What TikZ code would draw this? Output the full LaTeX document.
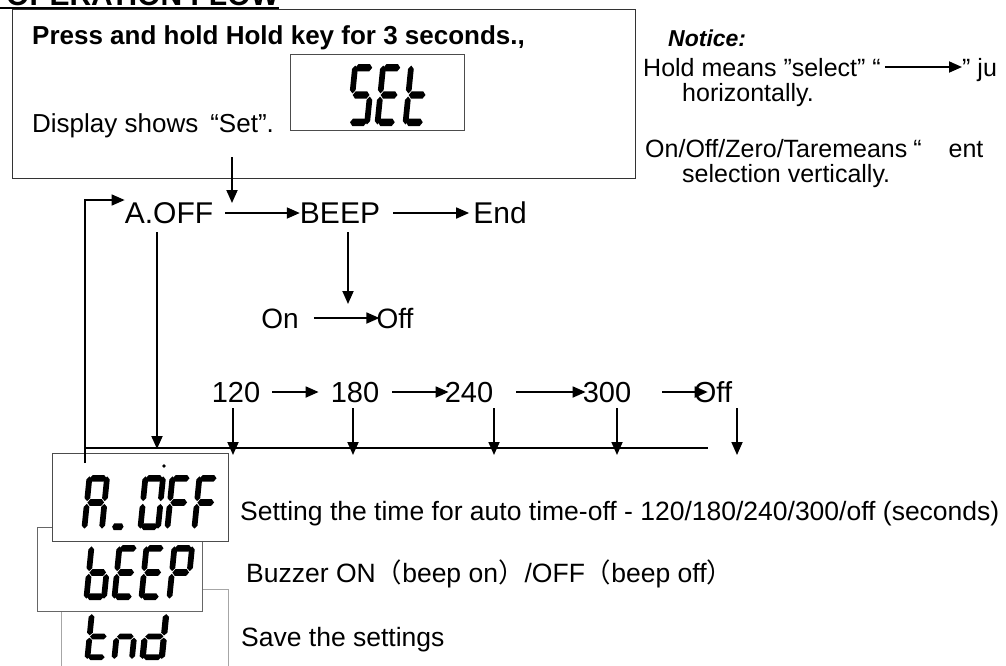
\documentclass[tikz,border=0pt]{standalone}
\usepackage{fontspec}
\setmainfont{Liberation Sans}
\newfontfamily\cjkfont{Noto Sans CJK SC}
\usetikzlibrary{arrows.meta}

\newcommand\fsz[1]{\fontsize{#1}{#1}\selectfont}

% seven-segment cell: x runs 0..1, y runs 0..2
\newcommand\lcdH[1]{\fill (0.12,#1) -- (0.24,{#1+0.12}) -- (0.76,{#1+0.12}) -- (0.88,#1) -- (0.76,{#1-0.12}) -- (0.24,{#1-0.12}) -- cycle;}
\newcommand\lcdV[3]{\fill (#1,{#2+0.05}) -- ({#1+0.13},{#2+0.16}) -- ({#1+0.13},{#3-0.16}) -- (#1,{#3-0.05}) -- ({#1-0.13},{#3-0.16}) -- ({#1-0.13},{#2+0.16}) -- cycle;}
\newcommand\lcdsega{\lcdH{1.88}}
\newcommand\lcdsegg{\lcdH{1.0}}
\newcommand\lcdsegd{\lcdH{0.12}}
\newcommand\lcdsegb{\lcdV{0.9}{1}{2}}
\newcommand\lcdsegc{\lcdV{0.9}{0}{1}}
\newcommand\lcdsegf{\lcdV{0.1}{1}{2}}
\newcommand\lcdsege{\lcdV{0.1}{0}{1}}
% #1,#2 bottom-left corner, #3 width, #4 height, #5 lit segments
\newcommand\lcdchar[5]{%
  \begin{scope}[shift={(#1,#2)},x={(#3pt,0pt)},y={({0.05*#4*1pt},{0.5*#4*1pt})}]
    \foreach \s in {#5}{\csname lcdseg\s\endcsname}
  \end{scope}}

\begin{document}
\begin{tikzpicture}[x=1pt,y=-1pt,
  txt/.style={inner sep=0pt,anchor=base west},
  row/.style={inner sep=0pt,text height=21pt,text depth=0pt,font=\fsz{30}},
  num/.style={inner sep=0pt,text height=21pt,text depth=0pt,font=\fsz{29}},
  arr/.style={line width=1.8pt,-{Triangle[length=13pt,width=11pt]}},
  lcdbox/.style={draw=black!70,line width=1.1pt,fill=white,anchor=north west,inner sep=0pt},
  frame/.style={draw=black!80,line width=1.3pt,anchor=north west,inner sep=0pt}]
\path[use as bounding box,clip] (0,0) rectangle (1006,665);
\fill[white] (0,0) rectangle (1006,665);

% heading
\node[txt,font=\bfseries\fsz{30}] (title) at (6,5) {OPERATION FLOW};
\draw[line width=2.2pt] ([shift={(-6pt,-3pt)}]title.base west) -- ([yshift=-3pt]title.base east);

% entry box
\node[frame,minimum width=623pt,minimum height=169pt] (setbox) at (12,9) {};
\node[txt,font=\bfseries\fsz{26}] (press) at (32,44) {Press and hold Hold key for 3 seconds.,};
\node[txt,font=\fsz{26}] (disp) at (32,132) {Display shows\hspace{12pt}“Set”.};
\node[lcdbox,minimum width=174pt,minimum height=76pt] (setlcd) at (290,54) {};
\lcdchar{347}{126}{22}{62}{a,f,g,c,d}
\lcdchar{375}{126}{22}{62}{a,f,g,e,d}
\lcdchar{403}{126}{22}{62}{f,e,g,d}

% notes
\node[txt,font=\bfseries\itshape\fsz{23}] (notice) at (668,46) {Notice:};
\node[txt,font=\fsz{25}] (hold) at (643,76) {Hold means ”select” “};
\node[txt,font=\fsz{25}] (holdq) at (962,76) {” ju};
\coordinate (selA) at ([shift={(4pt,9pt)}]hold.base east);
\coordinate (selB) at (holdq.base west |- selA);
\draw[arr] (selA) -- (selB);
\node[txt,font=\fsz{25}] (horiz) at (682,101) {horizontally.};
\node[txt,font=\fsz{25}] (onoffz) at (645,157) {On/Off/Zero/Taremeans\hspace{6pt}“\hspace{27pt}ent};
\node[txt,font=\fsz{25}] (vert) at (682,182) {selection vertically.};

% main menu row
\node[row] (aoff) at (169,213) {A.OFF};
\node[row] (beep) at (340,213) {BEEP};
\node[row] (end) at (500,213) {End};
\coordinate (setout) at (232,157);
\coordinate (setin) at (232,203);
\draw[arr] (setout) -- (setin);
\draw[arr,shorten <=12pt] (aoff) -- (beep);
\draw[arr,shorten <=13pt,shorten >=4pt] (beep) -- (end);

% buzzer choices
\node[row,font=\fsz{28},text height=20pt] (on) at (280,318) {On};
\node[row,font=\fsz{28},text height=20pt] (off) at (395,318) {Off};
\coordinate (beeptop) at (348,232);
\coordinate (beeptip) at (348,304);
\draw[arr] (beeptop) -- (beeptip);
\draw[arr,shorten <=15pt,shorten >=-3pt] (on) -- (off);

% auto-off times
\node[num] (t120) at (236,392) {120};
\node[num] (t180) at (355,392) {180};
\node[num] (t240) at (469,392) {240};
\node[num] (t300) at (607,392) {300};
\node[num] (toff) at (713,392) {Off};
\draw[arr,shorten <=12pt,shorten >=12pt] (t120) -- (t180);
\draw[arr,shorten <=13pt,shorten >=-4pt] (t180) -- (t240);
\draw[arr,shorten <=23pt,shorten >=-3pt] (t240) -- (t300);
\draw[arr,shorten <=31pt,shorten >=-14pt] (t300) -- (toff);

% return bus
\coordinate (busl) at (85,448);
\coordinate (busr) at (708,448);
\draw[line width=1.8pt] (busl) -- (busr);
\foreach \n/\x in {120/233,180/353,240/494,300/617,off/737}{
  \coordinate (src\n) at (\x,408);
  \coordinate (drop\n) at (\x,455);
  \draw[arr] (src\n) -- (drop\n);
}
\coordinate (aofftop) at (157,232);
\coordinate (aofftip) at (157,449);
\draw[arr] (aofftop) -- (aofftip);

% display panels
\node[draw=black!35,line width=1pt,anchor=north west,inner sep=0pt,minimum width=167pt,minimum height=80pt] (endlcd) at (61,589) {};
\lcdchar{85}{660}{22}{47}{f,e,g,d}
\lcdchar{112}{660}{22}{47}{e,g,c}
\lcdchar{140}{660}{24}{47}{b,c,d,e,g}
\node[lcdbox,draw=black!60,minimum width=165pt,minimum height=84pt] (beeplcd) at (37,527) {};
\lcdchar{84}{600}{22}{55}{f,e,g,c,d}
\lcdchar{112}{600}{22}{55}{a,f,g,e,d}
\lcdchar{139}{600}{22}{55}{a,f,g,e,d}
\lcdchar{167}{600}{22}{55}{a,b,f,g,e}
\node[lcdbox,minimum width=176pt,minimum height=88pt] (aofflcd) at (52,453) {};
\lcdchar{82}{530}{22}{55}{a,b,c,e,f,g}
\lcdchar{110}{530}{15}{55}{d}
\lcdchar{138}{530}{22}{55}{a,b,c,d,e,f}
\lcdchar{165}{530}{22}{55}{a,f,g,e}
\lcdchar{192}{530}{22}{55}{a,f,g,e}
\fill (164,466) circle (1.8pt);

% loop back to the first item
\coordinate (loopbot) at (85,463);
\coordinate (looptop) at (85,200);
\draw[arr,line width=1.5pt] (loopbot) -- (looptop) -- (looptop -| aoff.west);

% descriptions
\node[txt,font=\fsz{26.5}] (d1) at (240,520) {Setting the time for auto time-off - 120/180/240/300/off (seconds)};
\node[txt,font=\fsz{26.5}] (d2) at (246,582) {Buzzer ON{\cjkfont （}beep on{\cjkfont ）}/OFF{\cjkfont （}beep off{\cjkfont ）}};
\node[txt,font=\fsz{26.5}] (d3) at (241,646) {Save the settings};
\end{tikzpicture}
\end{document}
